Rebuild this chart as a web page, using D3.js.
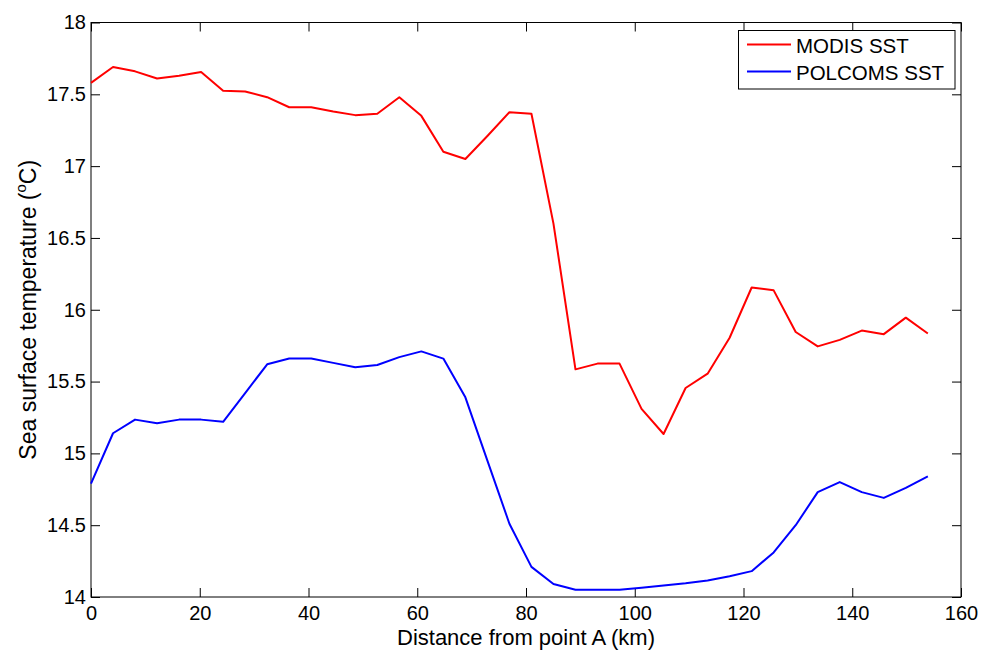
<!DOCTYPE html>
<html>
<head>
<meta charset="utf-8">
<script src="https://cdn.jsdelivr.net/npm/d3@7"></script>
<style>
  html, body { margin: 0; padding: 0; background: #fff; }
  svg { display: block; }
  text { font-family: "Liberation Sans", Arial, sans-serif; fill: #000; }
</style>
</head>
<body>
<svg id="chart" width="981" height="650"></svg>
<script>
// ---- data ----
const distanceKm = [0, 4.05, 8.1, 12.15, 16.2, 20.25, 24.3, 28.35, 32.4, 36.45,
  40.5, 44.55, 48.6, 52.65, 56.7, 60.75, 64.8, 68.85, 72.9, 76.95,
  81.0, 85.05, 89.1, 93.15, 97.2, 101.25, 105.3, 109.35, 113.4, 117.45,
  121.5, 125.55, 129.6, 133.65, 137.7, 141.75, 145.8, 149.85, 153.9];

const modisSST = [17.58, 17.69, 17.66, 17.61, 17.63, 17.655, 17.525, 17.52, 17.48, 17.41,
  17.41, 17.38, 17.355, 17.365, 17.48, 17.35, 17.10, 17.05, 17.21, 17.375,
  17.365, 16.60, 15.585, 15.625, 15.625, 15.31, 15.135, 15.455, 15.555, 15.805,
  16.155, 16.135, 15.845, 15.745, 15.79, 15.855, 15.83, 15.945, 15.835];

const polcomsSST = [14.79, 15.14, 15.235, 15.21, 15.235, 15.235, 15.22, 15.42, 15.62, 15.66,
  15.66, 15.63, 15.60, 15.615, 15.67, 15.71, 15.66, 15.39, 14.95, 14.51,
  14.21, 14.09, 14.05, 14.05, 14.05, 14.065, 14.08, 14.095, 14.115, 14.145,
  14.18, 14.31, 14.50, 14.73, 14.80, 14.73, 14.69, 14.76, 14.84];

const seriesNames = ["MODIS SST", "POLCOMS SST"];
const seriesColors = ["#ff0000", "#0000ff"];

const xTicks = [0, 20, 40, 60, 80, 100, 120, 140, 160];
const yTicks = [14, 14.5, 15, 15.5, 16, 16.5, 17, 17.5, 18];

const xLabel = "Distance from point A (km)";

// ---- layout ----
const svg = d3.select("#chart");
const mLeft = 91, mRight = 961, mTop = 22.5, mBottom = 597;
const x = d3.scaleLinear().domain([0, 160]).range([mLeft, mRight]);
const y = d3.scaleLinear().domain([14, 18]).range([mBottom, mTop]);
const tickLen = 9;
const axisColor = "#000";

// axes with inward ticks
const gx = svg.append("g").attr("transform", `translate(0,${mBottom})`)
  .call(d3.axisBottom(x).tickValues(xTicks).tickSize(-tickLen).tickPadding(9)
    .tickFormat(d3.format("d")));
const gxTop = svg.append("g").attr("transform", `translate(0,${mTop})`)
  .call(d3.axisTop(x).tickValues(xTicks).tickSize(-tickLen).tickFormat(""));
const gy = svg.append("g").attr("transform", `translate(${mLeft},0)`)
  .call(d3.axisLeft(y).tickValues(yTicks).tickSize(-tickLen).tickPadding(5)
    .tickFormat(d => String(d)));
const gyRight = svg.append("g").attr("transform", `translate(${mRight},0)`)
  .call(d3.axisRight(y).tickValues(yTicks).tickSize(-tickLen).tickFormat(""));

[gx, gxTop, gy, gyRight].forEach(g => {
  g.select(".domain").remove();
  g.selectAll(".tick line").attr("stroke", axisColor).attr("stroke-width", 1);
  g.selectAll(".tick text").attr("font-size", 20)
    .attr("font-family", '"Liberation Sans", Arial, sans-serif').attr("fill", "#000");
});

// box
svg.append("rect")
  .attr("x", mLeft).attr("y", mTop)
  .attr("width", mRight - mLeft).attr("height", mBottom - mTop)
  .attr("fill", "none").attr("stroke", axisColor).attr("stroke-width", 1);

// lines
const line = d3.line().x(d => x(d[0])).y(d => y(d[1]));
[modisSST, polcomsSST].forEach((vals, i) => {
  svg.append("path")
    .datum(distanceKm.map((dk, j) => [dk, vals[j]]))
    .attr("fill", "none")
    .attr("stroke", seriesColors[i])
    .attr("stroke-width", 2)
    .attr("stroke-linejoin", "round")
    .attr("d", line);
});

// x label
svg.append("text")
  .attr("x", (mLeft + mRight) / 2).attr("y", 645)
  .attr("text-anchor", "middle").attr("font-size", 22)
  .text(xLabel);

// y label with superscript
const yl = svg.append("text")
  .attr("transform", `translate(36,${(mTop + mBottom) / 2}) rotate(-90)`)
  .attr("text-anchor", "middle").attr("font-size", 23);
yl.append("tspan").text("Sea surface temperature (");
yl.append("tspan").attr("font-size", 15).attr("dy", -10).text("o");
yl.append("tspan").attr("dy", 10).text("C)");

// legend
const lg = svg.append("g");
lg.append("rect").attr("x", 738.5).attr("y", 30.5).attr("width", 216.5).attr("height", 58.5)
  .attr("fill", "#fff").attr("stroke", axisColor).attr("stroke-width", 1);
const legendY = [44.5, 71.5];
seriesNames.forEach((name, i) => {
  lg.append("line").attr("x1", 747).attr("x2", 791)
    .attr("y1", legendY[i]).attr("y2", legendY[i])
    .attr("stroke", seriesColors[i]).attr("stroke-width", 2);
  lg.append("text").attr("x", 796).attr("y", legendY[i] + 8.5)
    .attr("font-size", 20.5).text(name);
});
</script>
</body>
</html>
